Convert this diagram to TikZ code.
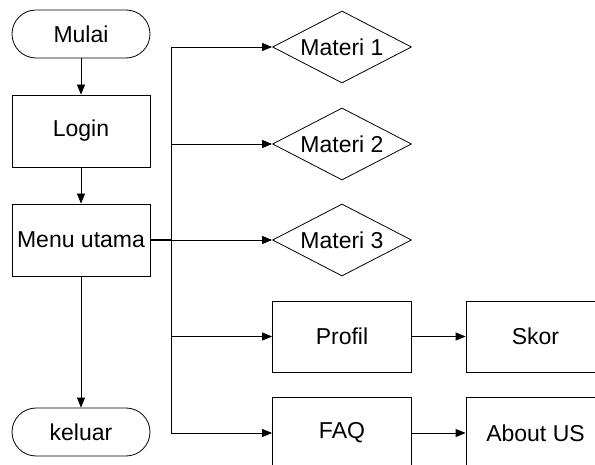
\documentclass[tikz,border=0pt]{standalone}
\usepackage{fontspec}
\setmainfont{Liberation Sans}
\usetikzlibrary{shapes.geometric,arrows.meta}
\begin{document}
\begin{tikzpicture}[x=1pt,y=-1pt,
  every node/.style={font=\fontsize{23}{27}\selectfont, draw, line width=0.8pt, inner sep=0pt},
  term/.style={rectangle, rounded corners=24pt, minimum width=138pt, minimum height=48pt},
  proc/.style={rectangle, minimum width=138pt, minimum height=72pt},
  dec/.style={diamond, aspect=1.93, minimum width=139pt, minimum height=72pt},
  arr/.style={line width=0.8pt, -{Triangle[length=10pt,width=8pt]}},
  ln/.style={line width=0.8pt}]
\clip (0,0) rectangle (595,465);
\fill[white] (0,0) rectangle (595,465);
\node[term] (mulai) at (81,34) {Mulai};
\node[proc] (login) at (81,131) {Login};
\node[proc] (menu) at (81,240) {Menu utama};
\node[term] (keluar) at (81,432) {keluar};
\node[dec] (m1) at (342,47) {Materi 1};
\node[dec] (m2) at (342,144) {Materi 2};
\node[dec] (m3) at (342,240) {Materi 3};
\node[proc, minimum width=139pt, minimum height=71pt] (profil) at (342,336.5) {Profil};
\node[proc, minimum width=139pt, minimum height=71pt] (skor) at (535.5,336.5) {Skor};
\node[proc, minimum width=139pt] (faq) at (342,433) {FAQ};
\node[proc, minimum width=139pt] (about) at (535.5,433) {About US};
\coordinate (j) at (171,240);
\draw[arr] (mulai) -- (login);
\draw[arr] (login) -- (menu);
\draw[arr] (menu) -- (keluar);
\draw[line width=1.4pt] (menu.east) -- (j);
\draw[arr] (j) -- (m3.west);
\draw[arr] (j) |- (m1.west);
\draw[arr] (j) |- (m2.west);
\draw[arr] (j) |- (profil.west);
\draw[arr] (j) |- (faq.west);
\draw[arr] (profil) -- (skor);
\draw[arr] (faq) -- (about);
\end{tikzpicture}
\end{document}
